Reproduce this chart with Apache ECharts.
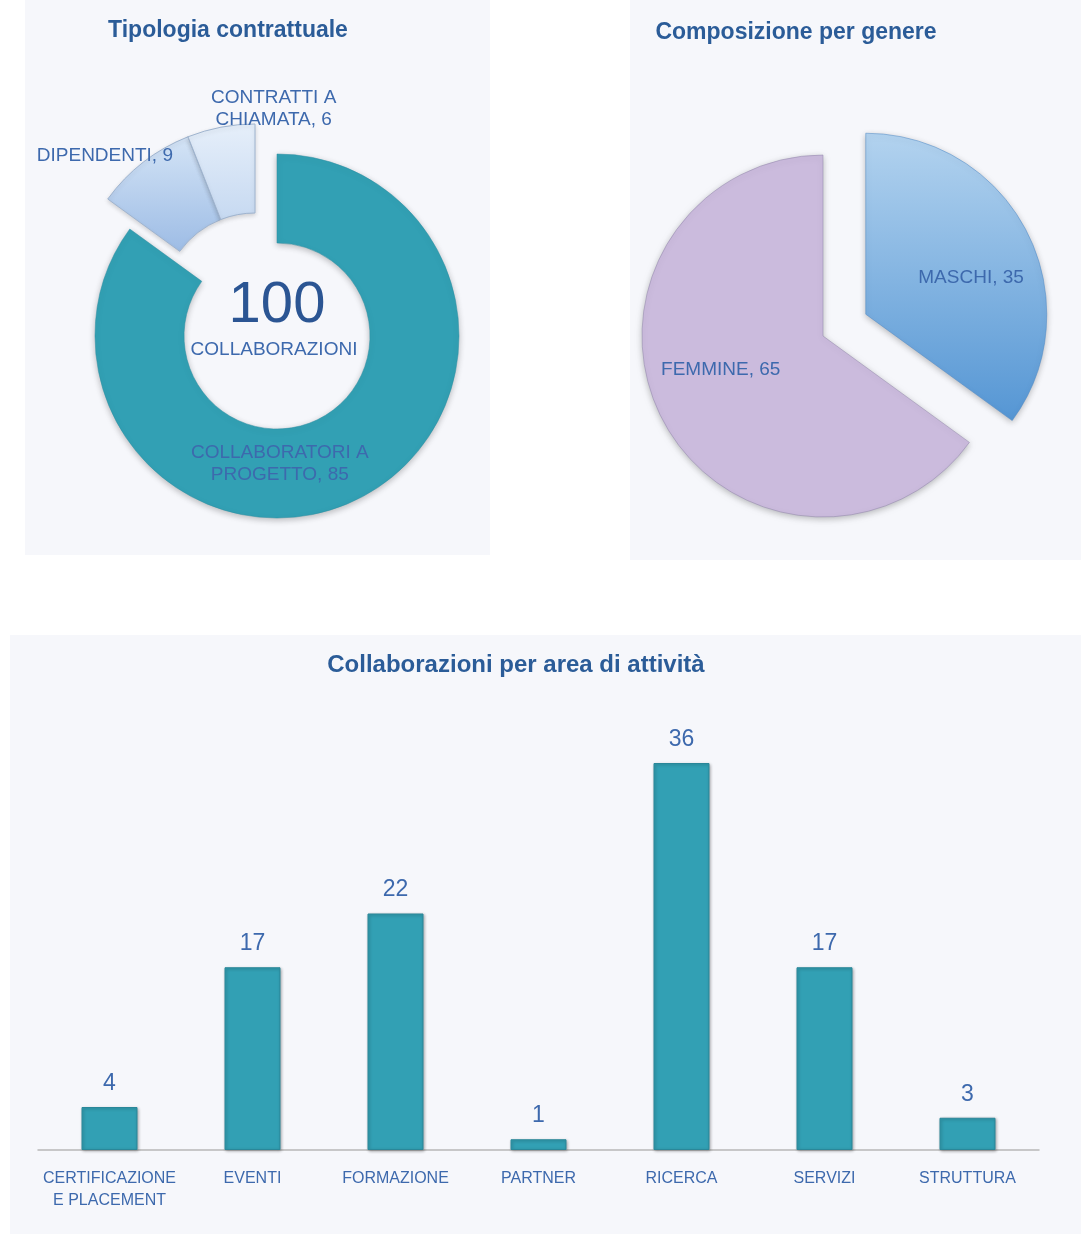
<!DOCTYPE html>
<html>
<head>
<meta charset="utf-8">
<script src="https://cdn.jsdelivr.net/npm/echarts@6/dist/echarts.min.js"></script>
<style>
 html,body{margin:0;padding:0;background:#fff;}
 #main{width:1081px;height:1234px;}
</style>
</head>
<body>
<div id="main"></div>
<script>
// tipologia contrattuale
var tipoNomi = ["COLLABORATORI A\nPROGETTO", "DIPENDENTI", "CONTRATTI A\nCHIAMATA"];
var tipoValori = [85, 9, 6];
var totale = 100;

// composizione per genere
var genereNomi = ["MASCHI", "FEMMINE"];
var genereValori = [35, 65];

// collaborazioni per area
var aree = ["CERTIFICAZIONE\nE PLACEMENT", "EVENTI", "FORMAZIONE", "PARTNER", "RICERCA", "SERVIZI", "STRUTTURA"];
var areeValori = [4, 17, 22, 1, 36, 17, 3];

var blu = "#3d69ad";
var titolo = "#2b5c98";
var teal = "#32a0b4";
var font = "'Liberation Sans', Arial, sans-serif";

function grad(c1, c2){
 return new echarts.graphic.LinearGradient(0, 0, 0, 1, [{offset:0, color:c1}, {offset:1, color:c2}]);
}

var tipoColori = [teal, grad("#d4e4f6", "#9dbce5"), grad("#e6effa", "#c6d9f1")];
// spostamento etichette (dx, dy) per ogni fetta
var tipoShift = [[-61, 3], [-64, -39], [45, -59]];
var genereShift = [[22, 6], [-19, -9]];

// ciambella: fetta grande al centro, le due piccole staccate
var ringA = [];
var ringB = [];
tipoNomi.forEach(function(n, i){
 var on = {value: tipoValori[i], name: n, itemStyle:{color: tipoColori[i]}};
 var off = {value: tipoValori[i], name: n, itemStyle:{color:"transparent", borderWidth:0, shadowBlur:0}, label:{show:false}};
 if(i==0){
  ringA.push(on); ringB.push(off);
 }else{
  ringA.push(off); ringB.push(on);
 }
});

var genereColori = [grad("#b3d3ef", "#5596d4"), "#cbbbdd"];
var genereData = genereNomi.map(function(n, i){
 return {value: genereValori[i], name: n, selected: i==0, itemStyle:{color: genereColori[i]}};
});

var pieLabel = {
 show:true, position:"inside", color: blu, fontFamily: font, fontSize:19, lineHeight:22,
 formatter: function(p){ return p.name + ", " + p.value; }
};

var titleStyle = {color:titolo, fontFamily:font, fontSize:23, fontWeight:"bold"};

var chart = echarts.init(document.getElementById("main"));
var option = {
 backgroundColor:"#ffffff",
 animation:false,
 title:[
  {text:"Tipologia contrattuale", left:223, top:14, textAlign:"center", textStyle:titleStyle},
  {text:"Composizione per genere", left:791, top:16, textAlign:"center", textStyle:titleStyle},
  {text:"Collaborazioni per area di attività", left:511, top:648, textAlign:"center",
   textStyle:{color:titolo, fontFamily:font, fontSize:24, fontWeight:"bold"}}
 ],
 graphic:[
  {type:"rect", z:-10, silent:true, shape:{x:25, y:0, width:465, height:555}, style:{fill:"#f6f7fb"}},
  {type:"rect", z:-10, silent:true, shape:{x:630, y:0, width:451, height:560}, style:{fill:"#f6f7fb"}},
  {type:"rect", z:-10, silent:true, shape:{x:10, y:635, width:1071, height:599}, style:{fill:"#f6f7fb"}},
  {type:"text", z:10, x:277, y:306, style:{text:String(totale), fill:"#2b5593", font:"58px " + font, textAlign:"center", textVerticalAlign:"middle"}},
  {type:"text", z:10, x:274, y:350, style:{text:"COLLABORAZIONI", fill:blu, font:"19px " + font, textAlign:"center", textVerticalAlign:"middle"}}
 ],
 grid:{left:38, right:42, top:720, bottom:84},
 xAxis:{
  type:"category", data: aree,
  axisLine:{lineStyle:{color:"#b8b8b8", width:1.5}},
  axisTick:{show:false},
  axisLabel:{color: blu, fontFamily: font, fontSize:16, lineHeight:22, margin:18, interval:0}
 },
 yAxis:{type:"value", min:0, max:40, show:false, splitLine:{show:false}},
 series:[
  {
   type:"pie", center:[277,336], radius:[93,182], startAngle:90, clockwise:true,
   silent:true, data: ringA,
   itemStyle:{borderColor:"#2a8fa3", borderWidth:0.5, shadowBlur:6, shadowColor:"rgba(0,0,0,0.25)", shadowOffsetY:2},
   label: pieLabel,
   labelLayout:function(p){ return {dx: tipoShift[p.dataIndex][0], dy: tipoShift[p.dataIndex][1]}; }
  },
  {
   type:"pie", center:[255,306], radius:[93,182], startAngle:90, clockwise:true,
   silent:true, data: ringB,
   itemStyle:{borderColor:"#9fb4cf", borderWidth:1, shadowBlur:4, shadowColor:"rgba(0,0,0,0.15)", shadowOffsetY:2},
   label: pieLabel,
   labelLayout:function(p){ return {dx: tipoShift[p.dataIndex][0], dy: tipoShift[p.dataIndex][1]}; }
  },
  {
   type:"pie", center:[823,336], radius:[0,181], startAngle:90, clockwise:true,
   selectedMode:"single", selectedOffset:48, silent:true, data: genereData,
   itemStyle:{borderColor:"#8f84a8", borderWidth:0.5, shadowBlur:6, shadowColor:"rgba(0,0,0,0.25)", shadowOffsetY:2},
   select:{itemStyle:{borderColor:"#4a86c4", borderWidth:0.5}},
   label: pieLabel,
   labelLayout:function(p){ return {dx: genereShift[p.dataIndex][0], dy: genereShift[p.dataIndex][1]}; }
  },
  {
   type:"bar", data: areeValori, barWidth:56, silent:true,
   itemStyle:{color: teal, borderColor:"#2a8799", borderWidth:1, shadowBlur:3, shadowColor:"rgba(0,0,0,0.3)", shadowOffsetX:1, shadowOffsetY:1},
   label:{show:true, position:"top", distance:12, color: blu, fontFamily: font, fontSize:23}
  }
 ]
};
chart.setOption(option);
</script>
</body>
</html>
